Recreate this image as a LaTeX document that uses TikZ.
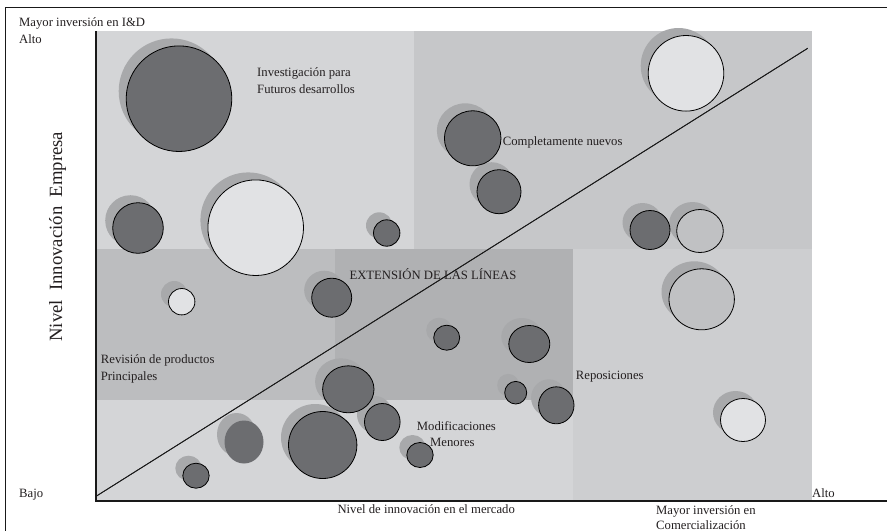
\documentclass[tikz,border=0pt]{standalone}
\usepackage{fontspec}
\setmainfont{Liberation Serif}
\usetikzlibrary{shapes.geometric}
\definecolor{regTL}{HTML}{D4D5D7}
\definecolor{regTR}{HTML}{C6C7C9}
\definecolor{regML}{HTML}{BCBDBF}
\definecolor{regMM}{HTML}{B0B1B3}
\definecolor{regB}{HTML}{D4D5D7}
\definecolor{regR}{HTML}{CDCED0}
\definecolor{shadowc}{HTML}{A8A9AB}
\definecolor{darkc}{HTML}{6C6D70}
\definecolor{lightc}{HTML}{E1E2E4}
\definecolor{midc}{HTML}{C0C1C3}
\definecolor{txt}{HTML}{231F20}
\tikzset{
  lbl/.style={anchor=base west, inner sep=0pt, text=txt, font=\fontsize{12.7}{15}\selectfont},
  bub/.style={ellipse, inner sep=0pt, draw=black, line width=0.8pt},
  shad/.style={ellipse, inner sep=0pt, fill=shadowc},
  axisline/.style={line width=2pt, draw=black!90},
  frameline/.style={line width=1.8pt, draw=black!90},
}
\newcommand{\shd}[4]{\node[shad, minimum width=#3*2pt, minimum height=#4*2pt] at (#1-7.5,#2-7.5) {};}
\newcommand{\bbl}[6]{\node[bub, fill=#5, minimum width=#3*2pt, minimum height=#4*2pt, #6] (#1) at (#2) {};}
\begin{document}
\begin{tikzpicture}[x=1pt,y=-1pt]
\useasboundingbox (0,0) rectangle (887,531);
\fill[white] (0,0) rectangle (887,531);
% regions
\fill[regTL] (96,31) rectangle (414,249);
\fill[regTR] (414,31) rectangle (811.7,249);
\fill[regML] (96,249) rectangle (335,400);
\fill[regMM] (335,249) rectangle (573,400);
\fill[regB] (96,400) rectangle (573,500);
\fill[regR] (573,249) rectangle (811.7,500);
% shadows
\shd{179}{98.7}{52.8}{52.8}
\shd{138}{228}{25.3}{25.3}
\shd{255.7}{227.7}{47.8}{47.8}
\shd{386.7}{233}{13.2}{13.2}
\shd{686}{73.3}{37.8}{37.8}
\shd{472.7}{138.3}{28.3}{27.5}
\shd{499}{191.7}{22}{22}
\shd{650}{230}{20}{19.5}
\shd{700}{231}{23.3}{21.5}
\shd{181.7}{301.7}{13.2}{13.2}
\shd{331.7}{297.7}{20}{19.5}
\shd{446.7}{337.7}{13}{12.5}
\shd{529.3}{344}{20.5}{18.5}
\shd{701.7}{299.3}{32.7}{30.5}
\shd{348.3}{389.3}{25.7}{23.5}
\shd{382.3}{422}{17.8}{18.5}
\shd{322.7}{445}{34.2}{33.5}
\shd{244}{442}{19.5}{21.5}
\shd{196}{475.7}{13.2}{12.5}
\shd{420}{455}{13.2}{12.5}
\shd{515.7}{392.7}{11}{11.3}
\shd{556.3}{405.3}{17.7}{18.5}
\shd{743}{420}{22.5}{21.5}
% bubbles
\bbl{c1}{179,98.7}{52.8}{52.8}{darkc}{}
\bbl{c2}{138,228}{25.3}{25.3}{darkc}{}
\bbl{c3}{255.7,227.7}{47.8}{47.8}{lightc}{}
\bbl{c4}{386.7,233}{13.2}{13.2}{darkc}{}
\bbl{c5}{686,73.3}{37.8}{37.8}{lightc}{}
\bbl{c6}{472.7,138.3}{28.3}{27.5}{darkc}{}
\bbl{c7}{499,191.7}{22}{22}{darkc}{}
\bbl{c8}{650,230}{20}{19.5}{darkc}{}
\bbl{c9}{700,231}{23.3}{21.5}{midc}{}
\bbl{c10}{181.7,301.7}{13.2}{13.2}{lightc}{}
\bbl{c11}{331.7,297.7}{20}{19.5}{darkc}{}
\bbl{c12}{446.7,337.7}{13}{12.5}{darkc}{}
\bbl{c13}{529.3,344}{20.5}{18.5}{darkc}{}
\bbl{c14}{701.7,299.3}{32.7}{30.5}{midc}{}
\bbl{c15}{348.3,389.3}{25.7}{23.5}{darkc}{}
\bbl{c16}{382.3,422}{17.8}{18.5}{darkc}{}
\bbl{c17}{322.7,445}{34.2}{33.5}{darkc}{}
\bbl{c18}{244,442}{19.5}{21.5}{darkc}{draw=none}
\bbl{c19}{196,475.7}{13.2}{12.5}{darkc}{}
\bbl{c20}{420,455}{13.2}{12.5}{darkc}{}
\bbl{c21}{515.7,392.7}{11}{11.3}{darkc}{}
\bbl{c22}{556.3,405.3}{17.7}{18.5}{darkc}{}
\bbl{c23}{743,420}{22.5}{21.5}{lightc}{}
% diagonal
\coordinate (dA) at (97,495.7);
\coordinate (dB) at (807.7,48.3);
\draw[line width=0.8pt, black!90] (dA) -- (dB);
% frame and axes
\coordinate (fTL) at (5.5,7.5);
\coordinate (fTR) at (887,7.5);
\coordinate (fBL) at (5.5,531);
\draw[frameline] (fTR) -- (fTL) -- (fBL);
\coordinate (aT) at (96,31);
\coordinate (aO) at (96,501);
\coordinate (aR) at (887,501);
\draw[axisline] (aT) -- (aO) -- (aR);
% labels
\node[lbl] (t1) at (19,26.5) {Mayor inversión en I\&D};
\node[lbl] (t2) at (19,43) {Alto};
\node[lbl] (t3) at (257,76) {Investigación para};
\node[lbl] (t4) at (257,93.3) {Futuros desarrollos};
\node[lbl] (t5) at (502.7,145) {Completamente nuevos};
\node[lbl] (t6) at (349.3,279) {EXTENSIÓN DE LAS LÍNEAS};
\node[lbl] (t7) at (100.7,363.3) {Revisión de productos};
\node[lbl] (t8) at (100.7,380) {Principales};
\node[lbl] (t9) at (416.7,430.7) {Modificaciones};
\node[lbl] (t10) at (430,446) {Menores};
\node[lbl] (t11) at (575.7,379.3) {Reposiciones};
\node[lbl] (t12) at (19,497.3) {Bajo};
\node[lbl] (t13) at (812,497.3) {Alto};
\node[lbl] (t14) at (337.3,513.3) {Nivel de innovación en el mercado};
\node[lbl] (t15) at (656,514.3) {Mayor inversión en};
\node[lbl] (t16) at (656,529.3) {Comercialización};
\node[anchor=base, inner sep=0pt, text=txt, rotate=90, font=\fontsize{18.7}{22}\selectfont] (t17) at (62,236.7) {Nivel\ \ Innovación\ \ Empresa};
\draw[line width=0.8pt, black!90] (dA) -- (dB);
\end{tikzpicture}
\end{document}
